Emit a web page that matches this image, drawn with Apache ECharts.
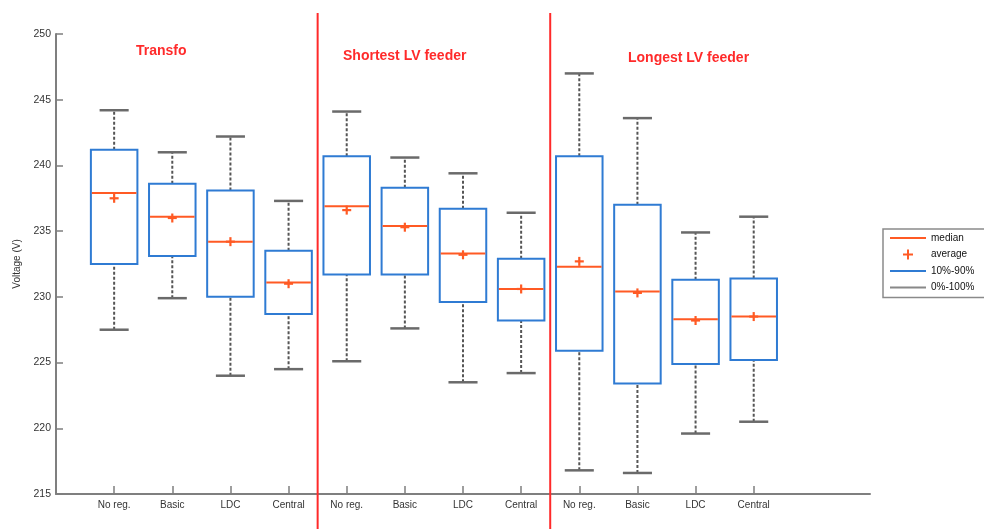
<!DOCTYPE html>
<html>
<head>
<meta charset="utf-8">
<script src="https://cdn.jsdelivr.net/npm/echarts@6/dist/echarts.min.js"></script>
<style>html,body{margin:0;padding:0;background:#fff;}#chart{width:984px;height:529px;}</style>
</head>
<body>
<div id="chart"></div>
<script>
// ---- data ----
const categories = ['No reg.', 'Basic', 'LDC', 'Central', 'No reg.', 'Basic', 'LDC', 'Central', 'No reg.', 'Basic', 'LDC', 'Central'];
const xPositions = [1, 2, 3, 4, 5, 6, 7, 8, 9, 10, 11, 12];
const groupTitles = ['Transfo', 'Shortest LV feeder', 'Longest LV feeder'];
const dividerPositions = [4.5, 8.5];
const minValues     = [227.5, 229.9, 224.0, 224.5, 225.1, 227.6, 223.5, 224.2, 216.8, 216.6, 219.6, 220.5];
const p10Values     = [232.5, 233.1, 230.0, 228.7, 231.7, 231.7, 229.6, 228.2, 225.9, 223.4, 224.9, 225.2];
const medianValues  = [237.9, 236.1, 234.2, 231.1, 236.9, 235.4, 233.3, 230.6, 232.3, 230.4, 228.3, 228.5];
const averageValues = [237.5, 236.0, 234.2, 231.0, 236.6, 235.3, 233.2, 230.6, 232.7, 230.3, 228.2, 228.5];
const p90Values     = [241.2, 238.6, 238.1, 233.5, 240.7, 238.3, 236.7, 232.9, 240.7, 237.0, 231.3, 231.4];
const maxValues     = [244.2, 241.0, 242.2, 237.3, 244.1, 240.6, 239.4, 236.4, 247.0, 243.6, 234.9, 236.1];
const yMin = 215, yMax = 250, yInterval = 5;
const seriesNames = ['median', 'average', '10%-90%', '0%-100%'];

// ---- styles ----
const ORANGE = '#ff5a24', BLUE = '#2f7bd3', GREY = '#6a6a6a', RED = '#ff2a2a';
const BOX_W = 0.8, CAP_W = 0.5;
const FONT = 'Liberation Sans, Arial, sans-serif';

const whiskerData = xPositions.map((x, i) => [x, minValues[i], p10Values[i], p90Values[i], maxValues[i]]);
const boxData = xPositions.map((x, i) => [x, p10Values[i], p90Values[i]]);
const medianData = xPositions.map((x, i) => [x, medianValues[i]]);
const averageData = xPositions.map((x, i) => [x, averageValues[i]]);
const dividerData = dividerPositions.map(p => [p, yMax]);

const chart = echarts.init(document.getElementById('chart'));
chart.setOption({
  animation: false,
  backgroundColor: '#fff',
  grid: { left: 56, right: 114, top: 34, bottom: 35 },
  xAxis: {
    type: 'value', min: 0, max: 14, interval: 1,
    splitLine: { show: false },
    axisLine: { lineStyle: { color: '#7f7f7f', width: 2 } },
    axisTick: { inside: true, length: 8, customValues: xPositions, lineStyle: { color: '#7f7f7f', width: 1.5 } },
    axisLabel: {
      customValues: xPositions, margin: 6, fontSize: 10, color: '#333', fontFamily: FONT,
      formatter: v => { const i = xPositions.indexOf(v); return i >= 0 ? categories[i] : ''; }
    }
  },
  yAxis: {
    type: 'value', min: yMin, max: yMax, interval: yInterval,
    name: 'Voltage (V)', nameLocation: 'middle', nameGap: 34,
    nameTextStyle: { fontSize: 10, color: '#333', fontFamily: FONT },
    splitLine: { show: false },
    axisLine: { show: true, lineStyle: { color: '#7f7f7f', width: 2 } },
    axisTick: { inside: true, length: 7, lineStyle: { color: '#7f7f7f', width: 1.5 } },
    axisLabel: { margin: 5, fontSize: 10.5, color: '#333', fontFamily: FONT }
  },
  legend: {
    orient: 'vertical', left: 883, top: 229,
    itemWidth: 36, itemHeight: 10, itemGap: 6.5,
    padding: [4, 30, 5, 7],
    borderColor: '#8a8a8a', borderWidth: 1.5, backgroundColor: '#fff',
    selectedMode: false,
    textStyle: { fontSize: 10, color: '#111', fontFamily: FONT },
    data: [
      { name: seriesNames[0], icon: 'path://M0,0H36V2H0Z', itemStyle: { color: ORANGE } },
      { name: seriesNames[1], icon: 'path://M4,0H6V4H10V6H6V10H4V6H0V4H4Z', itemStyle: { color: ORANGE } },
      { name: seriesNames[2], icon: 'path://M0,0H36V2H0Z', itemStyle: { color: BLUE } },
      { name: seriesNames[3], icon: 'path://M0,0H36V2H0Z', itemStyle: { color: '#888' } }
    ]
  },
  graphic: [
    { type: 'text', left: 136, top: 44, style: { text: groupTitles[0], fill: RED, font: 'bold 14px ' + FONT } },
    { type: 'text', left: 343, top: 49, style: { text: groupTitles[1], fill: RED, font: 'bold 14px ' + FONT } },
    { type: 'text', left: 628, top: 51, style: { text: groupTitles[2], fill: RED, font: 'bold 14px ' + FONT } }
  ],
  series: [
    {
      name: seriesNames[3], type: 'custom', itemStyle: { color: '#888' }, z: 2,
      encode: { x: 0, y: [1, 2, 3, 4] }, data: whiskerData,
      renderItem: (params, api) => {
        const x = api.value(0);
        const pMin = api.coord([x, api.value(1)]);
        const pLo = api.coord([x, api.value(2)]);
        const pHi = api.coord([x, api.value(3)]);
        const pMax = api.coord([x, api.value(4)]);
        const cw = api.size([CAP_W, 0])[0];
        const dash = { stroke: '#555', lineWidth: 2, lineDash: [3, 2] };
        const cap = { stroke: GREY, lineWidth: 2.5 };
        return { type: 'group', children: [
          { type: 'line', shape: { x1: pMin[0], y1: pMin[1], x2: pLo[0], y2: pLo[1] }, style: dash },
          { type: 'line', shape: { x1: pHi[0], y1: pHi[1], x2: pMax[0], y2: pMax[1] }, style: dash },
          { type: 'line', shape: { x1: pMin[0] - cw / 2, y1: pMin[1], x2: pMin[0] + cw / 2, y2: pMin[1] }, style: cap },
          { type: 'line', shape: { x1: pMax[0] - cw / 2, y1: pMax[1], x2: pMax[0] + cw / 2, y2: pMax[1] }, style: cap }
        ] };
      }
    },
    {
      name: seriesNames[2], type: 'custom', itemStyle: { color: BLUE }, z: 3,
      encode: { x: 0, y: [1, 2] }, data: boxData,
      renderItem: (params, api) => {
        const x = api.value(0);
        const lo = api.coord([x, api.value(1)]);
        const hi = api.coord([x, api.value(2)]);
        const w = api.size([BOX_W, 0])[0];
        return { type: 'rect', shape: { x: lo[0] - w / 2, y: hi[1], width: w, height: lo[1] - hi[1] },
          style: { fill: '#fff', stroke: BLUE, lineWidth: 2 } };
      }
    },
    {
      name: seriesNames[0], type: 'custom', itemStyle: { color: ORANGE }, z: 4,
      encode: { x: 0, y: 1 }, data: medianData,
      renderItem: (params, api) => {
        const p = api.coord([api.value(0), api.value(1)]);
        const w = api.size([BOX_W, 0])[0];
        return { type: 'line', shape: { x1: p[0] - w / 2 + 1, y1: p[1], x2: p[0] + w / 2 - 1, y2: p[1] },
          style: { stroke: ORANGE, lineWidth: 2 } };
      }
    },
    {
      name: seriesNames[1], type: 'custom', itemStyle: { color: ORANGE }, z: 5,
      encode: { x: 0, y: 1 }, data: averageData,
      renderItem: (params, api) => {
        const p = api.coord([api.value(0), api.value(1)]);
        const s = 4.5;
        const st = { stroke: ORANGE, lineWidth: 2.2 };
        return { type: 'group', children: [
          { type: 'line', shape: { x1: p[0] - s, y1: p[1], x2: p[0] + s, y2: p[1] }, style: st },
          { type: 'line', shape: { x1: p[0], y1: p[1] - s, x2: p[0], y2: p[1] + s }, style: st }
        ] };
      }
    },
    {
      name: 'dividers', type: 'custom', clip: false, z: 6, silent: true,
      encode: { x: 0, y: 1 }, data: dividerData,
      renderItem: (params, api) => {
        const p = api.coord([api.value(0), api.value(1)]);
        return { type: 'line', shape: { x1: p[0], y1: p[1] - 21, x2: p[0], y2: api.getHeight() },
          style: { stroke: RED, lineWidth: 2 } };
      }
    }
  ]
});
</script>
</body>
</html>
